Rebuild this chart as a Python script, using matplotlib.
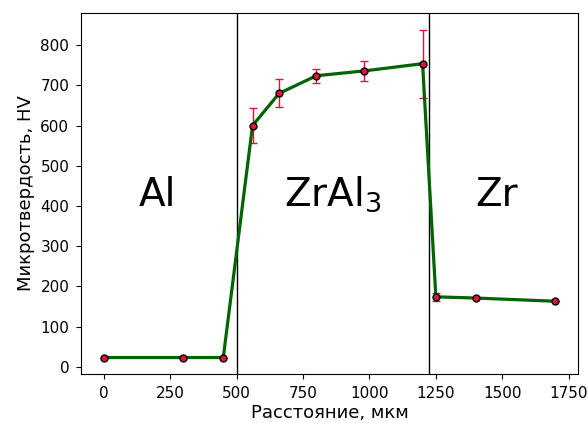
import matplotlib
matplotlib.use("Agg")
import matplotlib.pyplot as plt

# distance along the sample, um
distance = [0, 300, 450, 560, 660, 800, 980, 1200, 1250, 1400, 1700]
hardness = [23, 23, 23, 600, 680, 724, 736, 754, 174, 171, 163]
hardness_err = [0, 0, 0, 44, 35, 17, 24, 85, 10, 0, 0]

boundaries = [500, 1223]
zone_labels = ["Al", "ZrAl$_3$", "Zr"]
zone_x = [130, 680, 1400]
zone_y = 400

fig, ax = plt.subplots(figsize=(5.88, 4.23), dpi=100)
fig.subplots_adjust(left=0.138, right=0.983, top=0.969, bottom=0.116)

ax.errorbar(distance, hardness, yerr=hardness_err, color="darkgreen", linewidth=2.3,
            marker="o", markersize=5, markerfacecolor="crimson", markeredgecolor="black",
            ecolor="crimson", elinewidth=1, capsize=3, zorder=3)
for b in boundaries:
    ax.axvline(b, color="black", linewidth=1)
for x, lab in zip(zone_x, zone_labels):
    ax.text(x, zone_y, lab, fontsize=28)

ax.set_xlabel("Расстояние, мкм", fontsize=13, labelpad=2)
ax.set_ylabel("Микротвердость, HV", fontsize=13, labelpad=4)
ax.set_xticks([0, 250, 500, 750, 1000, 1250, 1500, 1750])
ax.tick_params(axis="both", labelsize=11, pad=5)

fig.savefig("out.png", dpi=100)
